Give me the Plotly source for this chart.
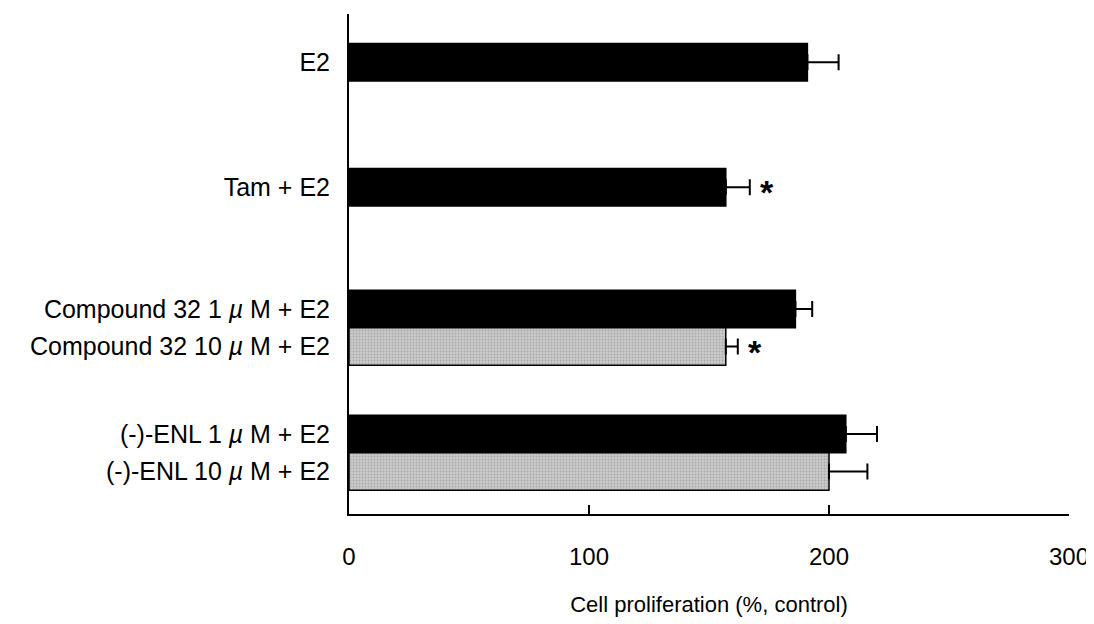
import plotly.graph_objects as go

# ---- data ----
black_labels = ["E2", "Tam + E2", "Compound 32 1 <i>µ</i> M + E2", "(-)-ENL 1 <i>µ</i> M + E2"]
black_values = [191, 157, 186, 207]
black_errors = [13, 10, 7, 13]

gray_labels = ["Compound 32 10 <i>µ</i> M + E2", "(-)-ENL 10 <i>µ</i> M + E2"]
gray_values = [157, 200]
gray_errors = [5, 16]

star_values = [157, 157]   # Tam + E2, Compound 32 10 uM + E2
star_errors = [10, 5]

x_ticks = [0, 100, 200, 300]
x_title = "Cell proliferation (%, control)"

# ---- layout positions (group centres, pair offset) ----
group_centres = [0.385, 1.385, 2.51, 3.51]
pair_off = 0.15
bar_w = 0.30

black_y = [group_centres[0], group_centres[1],
           group_centres[2] - pair_off, group_centres[3] - pair_off]
gray_y = [group_centres[2] + pair_off, group_centres[3] + pair_off]
star_y = [black_y[1], gray_y[0]]

FONT = "Liberation Sans, Arial, Helvetica, sans-serif"

fig = go.Figure()
fig.add_trace(go.Bar(
    y=black_y, x=black_values, orientation="h", width=bar_w,
    marker=dict(color="#000000", line=dict(color="#000000", width=1.5)),
    error_x=dict(type="data", array=black_errors, arrayminus=[0] * len(black_errors),
                 symmetric=False, color="#000000", thickness=2, width=8),
    showlegend=False, hoverinfo="x",
))
fig.add_trace(go.Bar(
    y=gray_y, x=gray_values, orientation="h", width=bar_w,
    marker=dict(color="#c2c2c2", line=dict(color="#000000", width=1.5),
                pattern=dict(shape=".", fgcolor="#8c8c8c", bgcolor="#cacaca",
                             size=3, solidity=0.35)),
    error_x=dict(type="data", array=gray_errors, arrayminus=[0] * len(gray_errors),
                 symmetric=False, color="#000000", thickness=2, width=8),
    showlegend=False, hoverinfo="x",
))

for v, e, y in zip(star_values, star_errors, star_y):
    fig.add_annotation(x=v + e, y=y, text="<b>*</b>", showarrow=False,
                       xanchor="left", yanchor="middle", xshift=8, yshift=-5,
                       font=dict(size=34, color="#000000", family=FONT))

# the page body adds an 8px offset, so the figure is sized to fit the window
fig.update_layout(
    width=1086, height=616,
    margin=dict(l=341, r=25, t=6, b=110),
    paper_bgcolor="white", plot_bgcolor="white",
    barmode="overlay",
    font=dict(family=FONT, color="#000000"),
    xaxis=dict(
        range=[0, 300], tickvals=x_ticks, ticktext=[str(t) for t in x_ticks],
        ticks="inside", ticklen=9, tickwidth=1.5, tickcolor="#000000",
        showline=True, linecolor="#000000", linewidth=2,
        showgrid=False, zeroline=False,
        tickfont=dict(size=24, family=FONT),
        ticklabelstandoff=20,
        ticklabeloverflow="allow",
        title=dict(text=x_title, font=dict(size=22, family=FONT), standoff=28),
    ),
    yaxis=dict(
        range=[4.0, 0.0],
        tickvals=black_y + gray_y, ticktext=black_labels + gray_labels,
        ticks="", showline=True, linecolor="#000000", linewidth=2,
        showgrid=False, zeroline=False,
        tickfont=dict(size=25, family=FONT),
        ticklabelstandoff=12,
    ),
)

fig.write_html("out.html", config={"displayModeBar": False})
